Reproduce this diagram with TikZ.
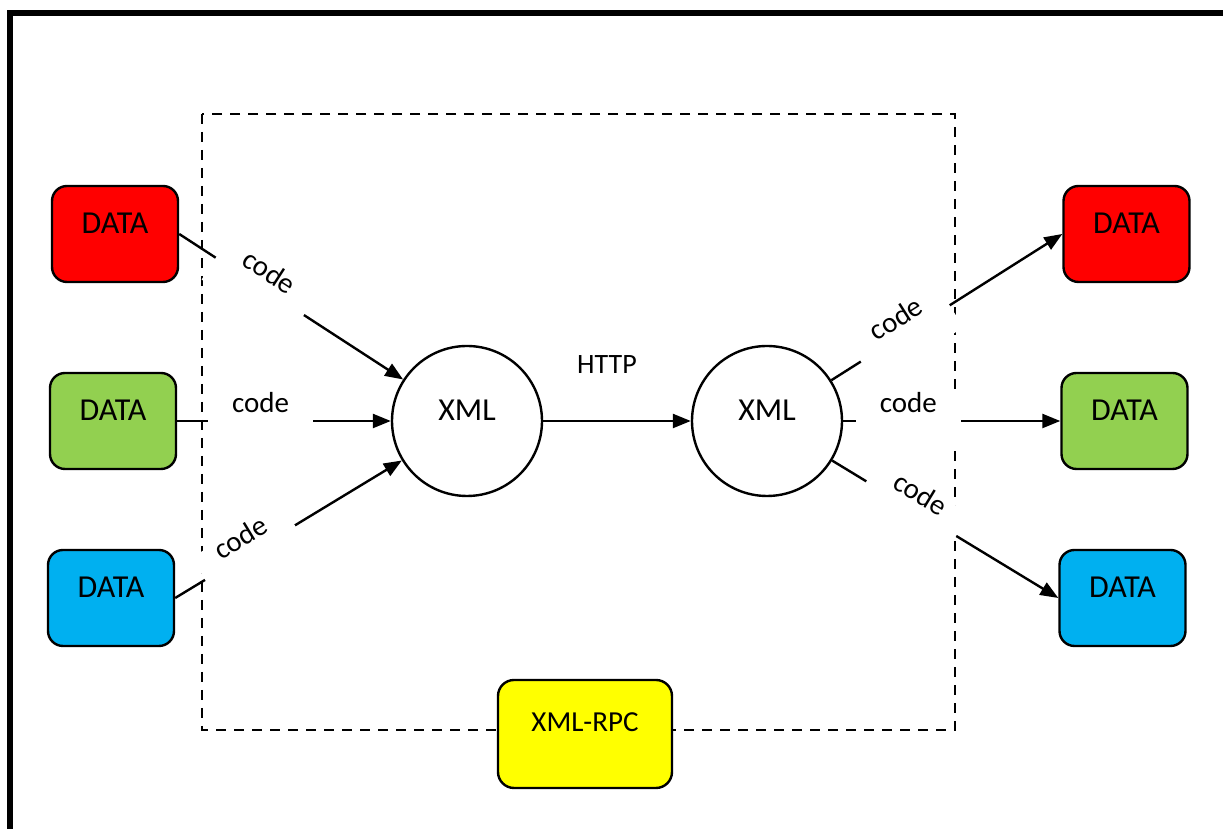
\documentclass[tikz,border=0pt]{standalone}
\usepackage{fontspec}
\setmainfont{Carlito}
\usetikzlibrary{arrows.meta}

\definecolor{datared}{RGB}{255,0,0}
\definecolor{datagreen}{RGB}{146,208,80}
\definecolor{datablue}{RGB}{0,176,240}
\definecolor{rpcyellow}{RGB}{255,255,0}

\begin{document}
\begin{tikzpicture}[x=0.5pt,y=0.5pt,
        databox/.style={draw, line width=1.2pt, rounded corners=7.5pt, minimum width=63pt, minimum height=48pt, inner sep=0pt, font=\fontsize{16}{19}\selectfont, text height=10pt, text depth=10pt},
        xmlball/.style={draw, circle, line width=1.2pt, minimum size=75pt, inner sep=0pt, font=\fontsize{16}{19}\selectfont, text height=10pt, text depth=10pt},
        link/.style={line width=1.2pt, -{Triangle[length=9pt,width=7pt]}},
        codelbl/.style={fill=white, sloped, inner xsep=12pt, inner ysep=0pt, font=\fontsize{14.5}{17}\selectfont, text height=9pt, text depth=17pt}]
        \useasboundingbox (0,0) rectangle (1223,829);
        \clip (0,0) rectangle (1223,829);

        %Frame
        \draw [line width=3pt] (9.5,816) rectangle (1260,-50) ;
        %Dashed border
        \draw [line width=1.2pt, dash pattern=on 5pt off 4pt] (202,715) rectangle (955,99) ;

        %Data boxes, sender side
        \node [databox, fill=datared] (redin) at (115,595) {DATA};
        \node [databox, fill=datagreen] (greenin) at (113,408) {DATA};
        \node [databox, fill=datablue] (bluein) at (111,231) {DATA};
        %Data boxes, receiver side
        \node [databox, fill=datared] (redout) at (1126.5,595) {DATA};
        \node [databox, fill=datagreen] (greenout) at (1124.5,408) {DATA};
        \node [databox, fill=datablue] (blueout) at (1122.5,231) {DATA};

        %XML nodes
        \node [xmlball] (xmlin) at (467,408) {XML};
        \node [xmlball] (xmlout) at (767,408) {XML};

        %Protocol box
        \node [databox, fill=rpcyellow, minimum width=87pt, minimum height=54pt, rounded corners=8pt, font=\fontsize{14.5}{17}\selectfont, text height=9pt, text depth=11pt] (rpc) at (585,95) {XML-RPC};

        %Encoding
        \draw [link] (redin.east) -- node [codelbl, pos=0.36] (codea) {code} (xmlin) ;
        \draw [link] (greenin.east) -- node [codelbl, pos=0.39] (codeb) {code} (xmlin) ;
        \draw [link] (bluein.east) -- node [codelbl, pos=0.33] (codec) {code} (xmlin) ;

        %Transport
        \draw [link] (xmlin) -- node [midway, above=20pt, xshift=-5pt, font=\fontsize{14}{17}\selectfont] (http) {HTTP} (xmlout) ;

        %Decoding
        \draw [link] (xmlout) -- node [codelbl, pos=0.32] (coded) {code} (redout.west) ;
        \draw [link] (xmlout) -- node [codelbl, pos=0.30] (codee) {code} (greenout.west) ;
        \draw [link] (xmlout) -- node [codelbl, pos=0.35] (codef) {code} (blueout.west) ;
\end{tikzpicture}
\end{document}
